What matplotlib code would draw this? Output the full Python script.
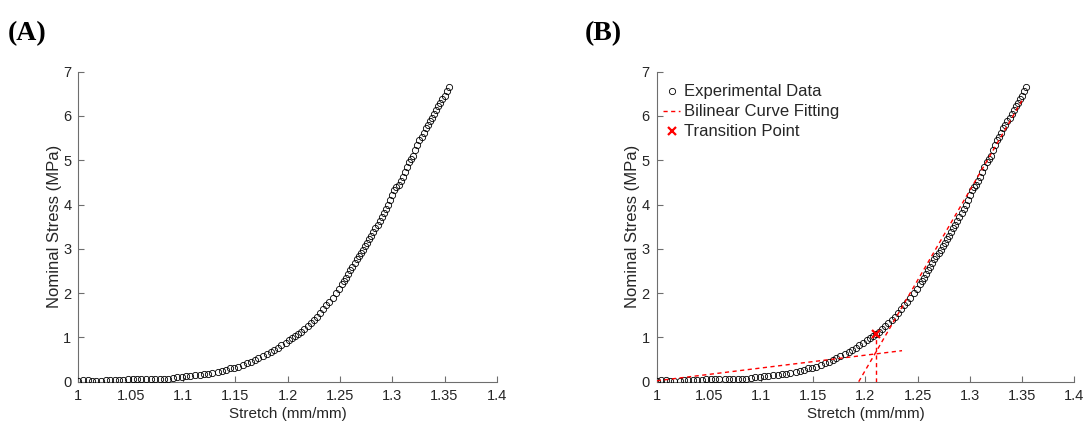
import matplotlib
matplotlib.use("Agg")
from matplotlib import pyplot as plt

plt.rcParams['font.family'] = ['Liberation Sans', 'DejaVu Sans']

stretch = [1.000, 1.004, 1.009, 1.013, 1.017, 1.022, 1.026, 1.030, 1.035, 1.039,
           1.043, 1.047, 1.052, 1.056, 1.060, 1.065, 1.069, 1.073, 1.078, 1.082,
           1.086, 1.090, 1.094, 1.099, 1.103, 1.107, 1.111, 1.116, 1.120, 1.124,
           1.128, 1.133, 1.137, 1.141, 1.145, 1.149, 1.153, 1.157, 1.161, 1.165,
           1.169, 1.172, 1.176, 1.180, 1.184, 1.187, 1.191, 1.194, 1.198, 1.201,
           1.204, 1.207, 1.210, 1.213, 1.216, 1.219, 1.222, 1.225, 1.228, 1.231,
           1.234, 1.237, 1.240, 1.243, 1.246, 1.249, 1.252, 1.254, 1.256, 1.258,
           1.260, 1.262, 1.264, 1.266, 1.268, 1.270, 1.272, 1.274, 1.276, 1.278,
           1.280, 1.282, 1.284, 1.286, 1.288, 1.290, 1.292, 1.294, 1.296, 1.298,
           1.300, 1.302, 1.304, 1.306, 1.308, 1.310, 1.312, 1.314, 1.316, 1.318,
           1.320, 1.322, 1.324, 1.326, 1.328, 1.330, 1.332, 1.334, 1.336, 1.338,
           1.340, 1.342, 1.344, 1.346, 1.348, 1.350, 1.352, 1.354]
stress = [0.01, 0.03, 0.03, 0.02, 0.02, 0.02, 0.03, 0.03, 0.04, 0.04,
          0.04, 0.05, 0.05, 0.05, 0.05, 0.06, 0.06, 0.06, 0.06, 0.06,
          0.07, 0.09, 0.10, 0.11, 0.12, 0.13, 0.14, 0.15, 0.17, 0.18,
          0.20, 0.22, 0.24, 0.27, 0.30, 0.32, 0.34, 0.37, 0.42, 0.45,
          0.49, 0.53, 0.58, 0.63, 0.68, 0.72, 0.77, 0.82, 0.88, 0.93,
          0.98, 1.03, 1.08, 1.13, 1.19, 1.26, 1.33, 1.40, 1.47, 1.55,
          1.63, 1.72, 1.81, 1.90, 2.00, 2.10, 2.20, 2.27, 2.35, 2.44,
          2.52, 2.60, 2.68, 2.77, 2.83, 2.90, 2.98, 3.06, 3.14, 3.22,
          3.30, 3.38, 3.46, 3.54, 3.62, 3.71, 3.80, 3.90, 4.00, 4.10,
          4.22, 4.33, 4.40, 4.45, 4.52, 4.62, 4.73, 4.85, 4.95, 5.03,
          5.10, 5.22, 5.35, 5.45, 5.52, 5.62, 5.72, 5.80, 5.88, 5.96,
          6.05, 6.13, 6.22, 6.30, 6.38, 6.46, 6.56, 6.65]

# bilinear fit (end points of the two lines) and transition point
fit1_x = [1.000, 1.235]
fit1_y = [0.02, 0.70]
fit2_x = [1.1935, 1.350]
fit2_y = [0.00, 6.35]
trans_x = 1.21
trans_y = 1.07

xticks = [1, 1.05, 1.1, 1.15, 1.2, 1.25, 1.3, 1.35, 1.4]
xticklabels = ['1', '1.05', '1.1', '1.15', '1.2', '1.25', '1.3', '1.35', '1.4']
yticks = [0, 1, 2, 3, 4, 5, 6, 7]

txt = '#262626'
axc = '#6e6e6e'

fig = plt.figure(figsize=(10.86, 4.24), dpi=100)
ax1 = fig.add_axes([0.0722, 0.0998, 0.3853, 0.7313])
ax2 = fig.add_axes([0.6047, 0.0998, 0.3845, 0.7313])

for ax in (ax1, ax2):
    ax.plot(stretch, stress, 'o', mfc='none', mec='black', ms=4.5, mew=0.6,
            label='Experimental Data', zorder=3)
    ax.set_xlim(1, 1.4)
    ax.set_ylim(0, 7)
    ax.set_xticks(xticks)
    ax.set_xticklabels(xticklabels)
    ax.set_yticks(yticks)
    ax.spines['top'].set_visible(False)
    ax.spines['right'].set_visible(False)
    for s in ('left', 'bottom'):
        ax.spines[s].set_color(axc)
        ax.spines[s].set_linewidth(0.8)
    ax.tick_params(direction='in', length=4, width=0.8, color=axc,
                   labelcolor=txt, labelsize=10.5, pad=5)
    ax.set_xlabel('Stretch (mm/mm)', fontsize=11, color=txt, labelpad=3)
    ax.set_ylabel('Nominal Stress (MPa)', fontsize=12, color=txt, labelpad=1)

ax2.plot(fit1_x, fit1_y, '--', color='red', lw=1.0, dashes=(3, 2.5),
         label='Bilinear Curve Fitting', zorder=4)
ax2.plot(fit2_x, fit2_y, '--', color='red', lw=1.0, dashes=(3, 2.5), zorder=4)
ax2.plot([trans_x, trans_x], [0, trans_y], '--', color='red', lw=1.0,
         dashes=(3, 2.5), zorder=4)
ax2.plot([trans_x], [trans_y], 'x', color='red', ms=6, mew=1.6,
         label='Transition Point', zorder=5)

ax2.legend(loc='upper left', frameon=False, fontsize=12, handlelength=1.0,
           handletextpad=0.25, labelspacing=0.3, borderaxespad=0.0,
           bbox_to_anchor=(0.0, 0.98), labelcolor=txt)

fig.text(0.007, 0.905, '(A)', fontsize=20, fontweight='bold',
         family='Liberation Serif')
fig.text(0.538, 0.905, '(B)', fontsize=20, fontweight='bold',
         family='Liberation Serif')

fig.savefig('out.png', dpi=100)
